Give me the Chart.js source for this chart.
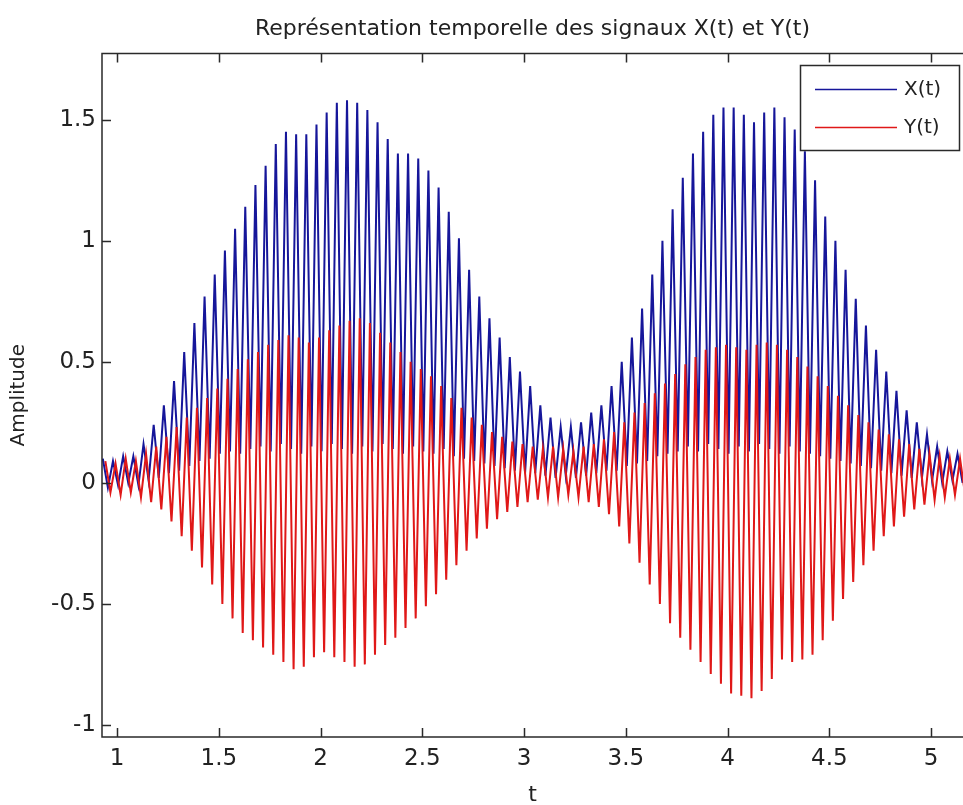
<!DOCTYPE html>
<html>
<head>
<meta charset="utf-8">
<script src="https://cdn.jsdelivr.net/npm/chart.js@4.4.1/dist/chart.umd.min.js"></script>
<style>
  html, body { margin: 0; background: #fff; overflow: hidden; }
  #wrap { width: 963px; height: 805px; }
</style>
</head>
<body>
<div id="wrap"><canvas id="chart"></canvas></div>
<script>
  // ── Data ────────────────────────────────────────
  // one peak + one trough per cycle, samples every half period
  var T0 = 0.93, HALF = 0.025;

  var xPeaks = [0.10,0.09,0.11,0.11,0.16,0.24,0.32,0.42,0.54,0.66,
    0.77,0.86,0.96,1.05,1.14,1.23,1.31,1.40,1.45,1.44,
    1.44,1.48,1.53,1.57,1.58,1.57,1.54,1.49,1.42,1.36,
    1.36,1.34,1.29,1.22,1.12,1.01,0.88,0.77,0.68,0.60,
    0.52,0.46,0.40,0.32,0.27,0.23,0.23,0.25,0.29,0.32,
    0.40,0.50,0.60,0.72,0.86,1.00,1.13,1.26,1.36,1.45,
    1.52,1.55,1.55,1.52,1.49,1.53,1.55,1.51,1.46,1.37,
    1.25,1.10,1.00,0.88,0.76,0.65,0.55,0.46,0.38,0.30,
    0.25,0.20,0.15,0.13,0.12];
  var xTroughs = [-0.02,-0.01,0.00,-0.01,0.01,0.02,0.04,0.05,0.07,0.09,
    0.10,0.12,0.13,0.12,0.14,0.15,0.13,0.16,0.14,0.12,
    0.15,0.13,0.16,0.14,0.12,0.15,0.13,0.16,0.14,0.12,
    0.15,0.13,0.12,0.14,0.11,0.10,0.09,0.08,0.07,0.06,
    0.05,0.04,0.04,0.03,0.02,0.03,0.02,0.03,0.04,0.05,
    0.05,0.07,0.08,0.09,0.11,0.12,0.13,0.15,0.13,0.16,
    0.14,0.12,0.15,0.13,0.16,0.14,0.12,0.15,0.13,0.12,
    0.11,0.10,0.09,0.08,0.07,0.06,0.05,0.04,0.03,0.02,
    0.02,0.01,0.00,0.01,0.00];
  var yPeaks = [0.09,0.08,0.10,0.09,0.12,0.15,0.19,0.23,0.27,0.31,
    0.35,0.39,0.43,0.47,0.51,0.54,0.57,0.59,0.61,0.60,
    0.58,0.60,0.63,0.65,0.67,0.68,0.66,0.62,0.58,0.54,
    0.50,0.47,0.44,0.40,0.35,0.31,0.27,0.24,0.21,0.19,
    0.17,0.16,0.15,0.14,0.15,0.14,0.13,0.15,0.16,0.18,
    0.21,0.25,0.29,0.33,0.37,0.41,0.45,0.49,0.52,0.55,
    0.56,0.57,0.56,0.55,0.57,0.58,0.57,0.55,0.52,0.48,
    0.44,0.40,0.36,0.32,0.28,0.25,0.22,0.20,0.18,0.16,
    0.14,0.12,0.11,0.10,0.10];
  var yTroughs = [-0.04,-0.05,-0.04,-0.06,-0.08,-0.11,-0.16,-0.22,-0.28,-0.35,
    -0.42,-0.50,-0.56,-0.62,-0.65,-0.68,-0.71,-0.74,-0.77,-0.76,
    -0.72,-0.70,-0.72,-0.74,-0.76,-0.75,-0.71,-0.67,-0.64,-0.60,
    -0.56,-0.51,-0.46,-0.40,-0.34,-0.28,-0.23,-0.19,-0.15,-0.12,
    -0.10,-0.08,-0.07,-0.06,-0.06,-0.05,-0.06,-0.08,-0.10,-0.13,
    -0.18,-0.25,-0.33,-0.42,-0.50,-0.58,-0.64,-0.69,-0.74,-0.79,
    -0.83,-0.87,-0.88,-0.89,-0.86,-0.81,-0.73,-0.74,-0.73,-0.71,
    -0.65,-0.57,-0.48,-0.41,-0.34,-0.28,-0.22,-0.18,-0.14,-0.11,
    -0.09,-0.07,-0.06,-0.05,-0.05];

  var xTicks = [1, 1.5, 2, 2.5, 3, 3.5, 4, 4.5, 5];
  var yTicks = [-1, -0.5, 0, 0.5, 1, 1.5];

  var FONT = "'DejaVu Sans', 'Liberation Sans', sans-serif";
  var INK = "#222";

  function zigzag(peaks, troughs, shift) {
    var pts = [];
    for (var i = 0; i < peaks.length; i++) {
      pts.push({ x: T0 + shift + 2 * i * HALF, y: peaks[i] });
      pts.push({ x: T0 + shift + (2 * i + 1) * HALF, y: troughs[i] });
    }
    return pts;
  }

  function useTicks(list) {
    return function (scale) {
      scale.ticks = list.map(function (v) { return { value: v }; });
    };
  }

  function plainLabel(v) { return String(v); }

  // ── Frame + inward ticks (MATLAB box) ───────────
  var framePlugin = {
    id: "frame",
    afterDatasetsDraw: function (chart) {
      var a = chart.chartArea, ctx = chart.ctx;
      var sx = chart.scales.x, sy = chart.scales.y;
      ctx.save();
      ctx.strokeStyle = "#2a2a2a";
      ctx.lineWidth = 1.5;
      ctx.beginPath();
      ctx.moveTo(a.right + 2, a.top); ctx.lineTo(a.left, a.top);
      ctx.lineTo(a.left, a.bottom); ctx.lineTo(a.right + 2, a.bottom);
      ctx.stroke();
      ctx.beginPath();
      xTicks.forEach(function (v) {
        var px = Math.round(sx.getPixelForValue(v)) + 0.5;
        ctx.moveTo(px, a.bottom); ctx.lineTo(px, a.bottom - 9);
        ctx.moveTo(px, a.top); ctx.lineTo(px, a.top + 9);
      });
      yTicks.forEach(function (v) {
        var py = Math.round(sy.getPixelForValue(v)) + 0.5;
        ctx.moveTo(a.left, py); ctx.lineTo(a.left + 9, py);
      });
      ctx.stroke();
      ctx.restore();
    },
    afterDraw: function (chart) {
      // legend box in the upper right corner
      var ctx = chart.ctx, ds = chart.data.datasets;
      ctx.save();
      ctx.fillStyle = "#fff";
      ctx.fillRect(800, 65, 159, 85);
      ctx.strokeStyle = "#2a2a2a";
      ctx.lineWidth = 1.5;
      ctx.strokeRect(800.5, 65.5, 159, 85);
      ctx.font = "20px " + FONT;
      ctx.textBaseline = "middle";
      ds.forEach(function (d, i) {
        var y = 89 + i * 38;
        ctx.strokeStyle = d.borderColor;
        ctx.lineWidth = 1.5;
        ctx.beginPath(); ctx.moveTo(815, y + 0.5); ctx.lineTo(897, y + 0.5); ctx.stroke();
        ctx.fillStyle = INK;
        ctx.fillText(d.label, 904, y + 1);
      });
      ctx.restore();
    }
  };

  new Chart(document.getElementById("chart"), {
    type: "line",
    data: {
      datasets: [
        { label: "X(t)", data: zigzag(xPeaks, xTroughs, 0), borderColor: "#16169a", borderWidth: 2, pointRadius: 0, tension: 0, order: 1 },
        { label: "Y(t)", data: zigzag(yPeaks, yTroughs, HALF / 2), borderColor: "#e01818", borderWidth: 2, pointRadius: 0, tension: 0, order: 0 }
      ]
    },
    options: {
      responsive: true, maintainAspectRatio: false, animation: false,
      events: [],
      layout: { padding: 0 },
      plugins: {
        legend: { display: false },
        tooltip: { enabled: false },
        title: {
          display: true,
          fullSize: false,
          text: "Représentation temporelle des signaux X(t) et Y(t)",
          color: INK,
          font: { family: FONT, size: 22, weight: "normal" },
          padding: { top: 16, bottom: 11 }
        }
      },
      scales: {
        x: {
          type: "linear", min: 0.926, max: 5.157,
          afterBuildTicks: useTicks(xTicks),
          afterFit: function (s) { s.height = 68; s.paddingLeft = 0; s.paddingRight = 0; },
          grid: { display: false, drawTicks: false },
          border: { display: false },
          ticks: { color: INK, padding: 8, maxRotation: 0, autoSkip: false, callback: plainLabel, font: { family: FONT, size: 23 } },
          title: { display: true, text: "t", color: INK, padding: { top: 0, bottom: -3 }, font: { family: FONT, size: 22 } }
        },
        y: {
          type: "linear", min: -1.05, max: 1.774,
          afterBuildTicks: useTicks(yTicks),
          afterFit: function (s) { s.width = 102; s.paddingTop = 0; s.paddingBottom = 0; },
          grid: { display: false, drawTicks: false },
          border: { display: false },
          ticks: { color: INK, padding: 6, autoSkip: false, callback: plainLabel, font: { family: FONT, size: 23 } },
          title: { display: true, text: "Amplitude", color: INK, padding: { top: 7, bottom: 0 }, font: { family: FONT, size: 20 } }
        }
      }
    },
    plugins: [framePlugin]
  });
</script>
</body>
</html>
